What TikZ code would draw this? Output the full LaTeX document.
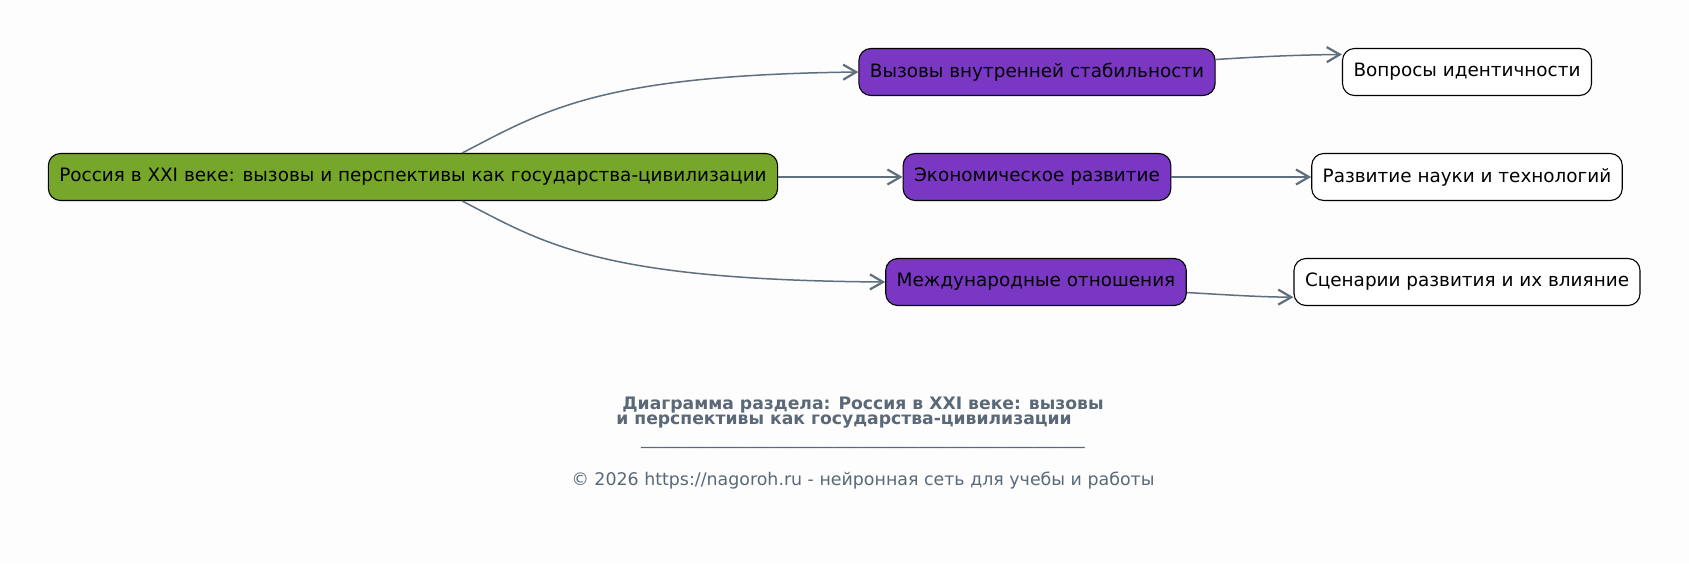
\documentclass[tikz,border=0pt]{standalone}
\usepackage{fontspec}
\setmainfont{DejaVu Sans}
\usetikzlibrary{arrows.meta}
\definecolor{bgc}{HTML}{FDFDFD}
\definecolor{rootc}{HTML}{76A72A}
\definecolor{subc}{HTML}{7A37C4}
\definecolor{edgec}{HTML}{5F6F7E}
\definecolor{footc}{HTML}{5A6878}
\begin{document}
\begin{tikzpicture}[x=1pt, y=-1pt,
  box/.style={draw, rounded corners=12pt, minimum height=47pt, inner xsep=11pt, font=\fontsize{18.4}{21}\selectfont, text=black, line width=1.1pt},
  link/.style={draw=edgec, line width=1.5pt, -{Straight Barb[length=13pt, width=15pt, line width=2.2pt]}},
  foot/.style={text=footc, font=\fontsize{17.4}{20}\selectfont}]
\fill[bgc] (0,0) rectangle (1689,563);
\node[box, fill=rootc] (nid0) at (413,177){Россия в XXI веке: вызовы и перспективы как государства-цивилизации};
\node[box, fill=subc] (nid1) at (1037,72){Вызовы внутренней стабильности};
\node[box, fill=subc] (nid2) at (1037,177){Экономическое развитие};
\node[box, fill=subc] (nid3) at (1036,282){Международные отношения};
\node[box, fill=white] (nid4) at (1467,72){Вопросы идентичности};
\node[box, fill=white] (nid5) at (1467,177){Развитие науки и технологий};
\node[box, fill=white] (nid6) at (1467,282){Сценарии развития и их влияние};
\draw[link](nid0.26) .. controls (545,110) and (600,75) .. (nid1.west);
\draw[link](nid0) -- (nid2);
\draw[link](nid0.-26) .. controls (545,244) and (600,280) .. (nid3.west);
\draw[link](nid1.4) .. controls (1270,56) and (1300,55) .. (nid4.172);
\draw[link](nid2) -- (nid5);
\draw[link](nid3.-4) .. controls (1230,295) and (1260,297) .. (nid6.185);
\node[foot, font=\fontsize{17.2}{20}\selectfont\bfseries] (tit1) at (863,405){Диаграмма раздела: Россия в XXI веке: вызовы};
\node[foot, font=\fontsize{17.2}{20}\selectfont\bfseries] (tit2) at (844,422){и перспективы как государства-цивилизации};
\node[foot] (rule) at (863,447){\_\_\_\_\_\_\_\_\_\_\_\_\_\_\_\_\_\_\_\_\_\_\_\_\_\_\_\_\_\_\_\_\_\_\_\_\_\_\_\_\_\_\_\_\_\_\_\_\_\_\_};
\node[foot] (copy) at (863,481){© 2026 https://nagoroh.ru - нейронная сеть для учебы и работы};
\end{tikzpicture}
\end{document}
